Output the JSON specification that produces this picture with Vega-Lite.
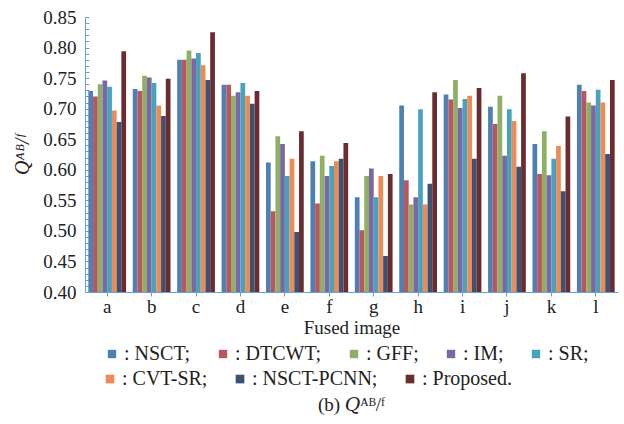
{
  "$schema": "https://vega.github.io/schema/vega-lite/v6.json",
  "autosize": "none",
  "width": 533,
  "height": 275,
  "padding": {"left": 85, "top": 17, "right": 6, "bottom": 132},
  "background": "white",
  "title": {"text": "(b) 𝑄ᴬᴮ/ᶠ", "orient": "bottom", "anchor": "middle", "fontSize": 19, "fontWeight": "normal", "color": "#222", "offset": 6},
  "data": {"values": [
    {"img":"a","m":"NSCT","v":0.729},{"img":"a","m":"DTCWT","v":0.720},{"img":"a","m":"GFF","v":0.740},{"img":"a","m":"IM","v":0.746},{"img":"a","m":"SR","v":0.736},{"img":"a","m":"CVT-SR","v":0.697},{"img":"a","m":"NSCT-PCNN","v":0.678},{"img":"a","m":"Proposed","v":0.794},
    {"img":"b","m":"NSCT","v":0.732},{"img":"b","m":"DTCWT","v":0.729},{"img":"b","m":"GFF","v":0.754},{"img":"b","m":"IM","v":0.751},{"img":"b","m":"SR","v":0.742},{"img":"b","m":"CVT-SR","v":0.705},{"img":"b","m":"NSCT-PCNN","v":0.688},{"img":"b","m":"Proposed","v":0.749},
    {"img":"c","m":"NSCT","v":0.780},{"img":"c","m":"DTCWT","v":0.780},{"img":"c","m":"GFF","v":0.795},{"img":"c","m":"IM","v":0.782},{"img":"c","m":"SR","v":0.791},{"img":"c","m":"CVT-SR","v":0.771},{"img":"c","m":"NSCT-PCNN","v":0.747},{"img":"c","m":"Proposed","v":0.825},
    {"img":"d","m":"NSCT","v":0.739},{"img":"d","m":"DTCWT","v":0.739},{"img":"d","m":"GFF","v":0.721},{"img":"d","m":"IM","v":0.727},{"img":"d","m":"SR","v":0.742},{"img":"d","m":"CVT-SR","v":0.721},{"img":"d","m":"NSCT-PCNN","v":0.708},{"img":"d","m":"Proposed","v":0.729},
    {"img":"e","m":"NSCT","v":0.612},{"img":"e","m":"DTCWT","v":0.532},{"img":"e","m":"GFF","v":0.655},{"img":"e","m":"IM","v":0.642},{"img":"e","m":"SR","v":0.590},{"img":"e","m":"CVT-SR","v":0.618},{"img":"e","m":"NSCT-PCNN","v":0.498},{"img":"e","m":"Proposed","v":0.663},
    {"img":"f","m":"NSCT","v":0.614},{"img":"f","m":"DTCWT","v":0.545},{"img":"f","m":"GFF","v":0.623},{"img":"f","m":"IM","v":0.590},{"img":"f","m":"SR","v":0.606},{"img":"f","m":"CVT-SR","v":0.614},{"img":"f","m":"NSCT-PCNN","v":0.618},{"img":"f","m":"Proposed","v":0.644},
    {"img":"g","m":"NSCT","v":0.555},{"img":"g","m":"DTCWT","v":0.501},{"img":"g","m":"GFF","v":0.590},{"img":"g","m":"IM","v":0.602},{"img":"g","m":"SR","v":0.555},{"img":"g","m":"CVT-SR","v":0.590},{"img":"g","m":"NSCT-PCNN","v":0.459},{"img":"g","m":"Proposed","v":0.593},
    {"img":"h","m":"NSCT","v":0.705},{"img":"h","m":"DTCWT","v":0.583},{"img":"h","m":"GFF","v":0.543},{"img":"h","m":"IM","v":0.555},{"img":"h","m":"SR","v":0.699},{"img":"h","m":"CVT-SR","v":0.543},{"img":"h","m":"NSCT-PCNN","v":0.577},{"img":"h","m":"Proposed","v":0.727},
    {"img":"i","m":"NSCT","v":0.723},{"img":"i","m":"DTCWT","v":0.715},{"img":"i","m":"GFF","v":0.747},{"img":"i","m":"IM","v":0.701},{"img":"i","m":"SR","v":0.716},{"img":"i","m":"CVT-SR","v":0.721},{"img":"i","m":"NSCT-PCNN","v":0.618},{"img":"i","m":"Proposed","v":0.734},
    {"img":"j","m":"NSCT","v":0.703},{"img":"j","m":"DTCWT","v":0.675},{"img":"j","m":"GFF","v":0.721},{"img":"j","m":"IM","v":0.623},{"img":"j","m":"SR","v":0.699},{"img":"j","m":"CVT-SR","v":0.680},{"img":"j","m":"NSCT-PCNN","v":0.605},{"img":"j","m":"Proposed","v":0.758},
    {"img":"k","m":"NSCT","v":0.642},{"img":"k","m":"DTCWT","v":0.593},{"img":"k","m":"GFF","v":0.663},{"img":"k","m":"IM","v":0.591},{"img":"k","m":"SR","v":0.618},{"img":"k","m":"CVT-SR","v":0.639},{"img":"k","m":"NSCT-PCNN","v":0.565},{"img":"k","m":"Proposed","v":0.687},
    {"img":"l","m":"NSCT","v":0.739},{"img":"l","m":"DTCWT","v":0.729},{"img":"l","m":"GFF","v":0.710},{"img":"l","m":"IM","v":0.705},{"img":"l","m":"SR","v":0.731},{"img":"l","m":"CVT-SR","v":0.710},{"img":"l","m":"NSCT-PCNN","v":0.626},{"img":"l","m":"Proposed","v":0.747}
  ]},
  "mark": {"type": "bar", "clip": true, "strokeWidth": 0},
  "encoding": {
    "x": {
      "field": "img", "type": "nominal",
      "scale": {"paddingInner": 0.15, "paddingOuter": 0.075},
      "axis": {
        "title": "Fused image", "titleFontSize": 19, "titleFontWeight": "normal", "titleColor": "#222", "titlePadding": 2,
        "labelFontSize": 19, "labelColor": "#222", "labelAngle": 0, "labelPadding": 1,
        "domainColor": "#6e9ccf", "tickColor": "#6e9ccf", "tickSize": 4, "grid": false
      }
    },
    "xOffset": {
      "field": "m", "type": "nominal",
      "sort": ["NSCT","DTCWT","GFF","IM","SR","CVT-SR","NSCT-PCNN","Proposed"],
      "scale": {"paddingInner": 0, "paddingOuter": 0}
    },
    "y": {
      "field": "v", "type": "quantitative",
      "scale": {"domain": [0.4, 0.85], "zero": false, "nice": false},
      "axis": {
        "title": "Qᴬᴮ/ᶠ", "titleFontSize": 20, "titleFontWeight": "normal", "titleFontStyle": "italic", "titleColor": "#222", "titlePadding": 10,
        "values": [0.40,0.41,0.42,0.43,0.44,0.45,0.46,0.47,0.48,0.49,0.50,0.51,0.52,0.53,0.54,0.55,0.56,0.57,0.58,0.59,0.60,0.61,0.62,0.63,0.64,0.65,0.66,0.67,0.68,0.69,0.70,0.71,0.72,0.73,0.74,0.75,0.76,0.77,0.78,0.79,0.80,0.81,0.82,0.83,0.84,0.85],
        "labelExpr": "abs(round(datum.value*100) % 5) == 0 ? format(datum.value, '.2f') : ''",
        "labelFontSize": 19, "labelColor": "#222", "labelPadding": 13,
        "domainColor": "#6e9ccf", "tickColor": "#6e9ccf", "tickSize": -4, "grid": false
      }
    },
    "fill": {
      "field": "m", "type": "nominal",
      "scale": {
        "domain": ["NSCT","DTCWT","GFF","IM","SR","CVT-SR","NSCT-PCNN","Proposed"],
        "range": ["#4e7fb5","#b9575c","#8fae66","#7b67a3","#45a3bd","#ee8a55","#3d5273","#6a2c2e"]
      },
      "legend": {
        "title": null, "orient": "none", "legendX": 17, "legendY": 327, "direction": "horizontal",
        "values": ["NSCT","DTCWT","GFF","IM","SR"],
        "labelExpr": "': ' + datum.label + ';'",
        "labelFontSize": 20, "labelColor": "#222", "labelOffset": 2, "labelLimit": 300,
        "symbolType": "square", "symbolSize": 70, "symbolStrokeWidth": 0,
        "columnPadding": 22
      }
    },
    "stroke": {
      "field": "m", "type": "nominal",
      "scale": {
        "domain": ["CVT-SR","NSCT-PCNN","Proposed","NSCT","DTCWT","GFF","IM","SR"],
        "range": ["#ee8a55","#3d5273","#6a2c2e","#4e7fb5","#b9575c","#8fae66","#7b67a3","#45a3bd"]
      },
      "legend": {
        "title": null, "orient": "none", "legendX": 15, "legendY": 352, "direction": "horizontal",
        "values": ["CVT-SR","NSCT-PCNN","Proposed"],
        "labelExpr": "': ' + datum.label + (datum.label == 'Proposed' ? '.' : ';')",
        "labelFontSize": 20, "labelColor": "#222", "labelOffset": 2, "labelLimit": 300,
        "symbolType": "square", "symbolSize": 18, "symbolStrokeWidth": 4.4,
        "columnPadding": 21
      }
    }
  },
  "config": {
    "font": "Liberation Serif, Times New Roman, DejaVu Serif, serif",
    "view": {"stroke": null}
  }
}
